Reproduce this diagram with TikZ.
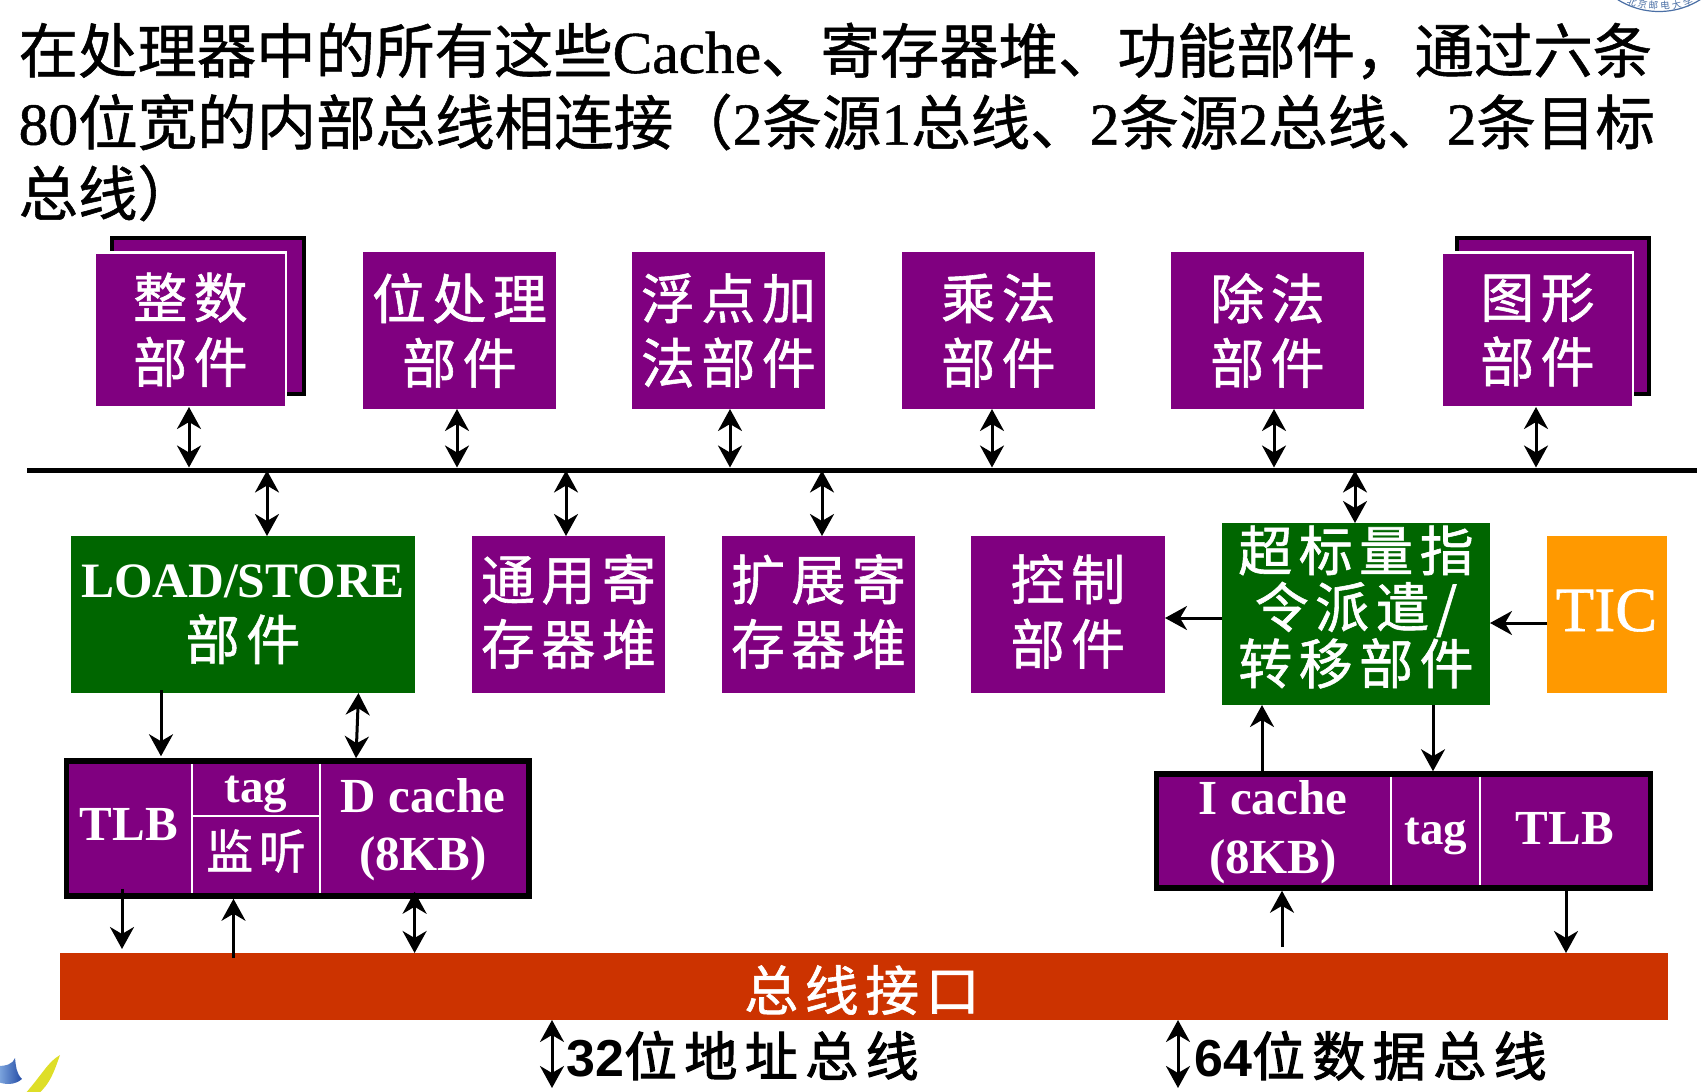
\documentclass[tikz,border=0pt]{standalone}
\usepackage{fontspec}
\usetikzlibrary{arrows.meta,calc}
\setmainfont{Liberation Serif}
\newfontfamily\cjk[FakeBold=0.9]{Noto Sans CJK SC}
\newfontfamily\cjkplain{Noto Sans CJK SC}
\newfontfamily\lab[LetterSpace=12,FakeBold=1.1]{Noto Sans CJK SC}
\newfontfamily\labb[LetterSpace=14,FakeBold=2]{Noto Sans CJK SC}
\newfontfamily\lats{Liberation Sans}
\newfontfamily\seri[FakeBold=0.9]{Liberation Serif}
\newcommand\lat[1]{{\seri #1}}
\newcommand\fsz[2]{\fontsize{#1}{#2}\selectfont}
\definecolor{pur}{HTML}{800080}
\definecolor{grn}{HTML}{006600}
\definecolor{org}{HTML}{FF9900}
\definecolor{rdd}{HTML}{CC3300}
\definecolor{sealb}{HTML}{4A6FA5}
\tikzset{
  x=1pt,y=-1pt,
  tipA/.tip={Stealth[length=22pt,width=24pt,inset=7pt]},
  one/.style={line width=3pt,-tipA},
  dbl/.style={line width=3pt,tipA-tipA},
  base/.style={rectangle,inner sep=0pt,outer sep=0pt,text=white,align=center,font=\lab\fsz{54}{64.5}},
  pbox/.style={base,fill=pur},
  gbox/.style={base,fill=grn},
  front/.style={pbox,draw=white,line width=2.5pt},
  backb/.style={pbox,draw=black,line width=4pt},
  frame/.style={pbox,draw=black,line width=5.5pt,outer sep=2.75pt},
  cell/.style={inner sep=0pt,text=white,font=\bfseries\fsz{49}{49},anchor=base},
  cellc/.style={inner sep=0pt,text=white,font=\lab\fsz{47}{47}},
  div/.style={draw=white,line width=2pt},
  ttl/.style={inner sep=0pt,anchor=west,text=black,font=\cjk},
  bot/.style={inner sep=0pt,anchor=base west,text=black},
  sealc/.style={inner sep=0pt,text=sealb,font=\cjkplain\fsz{9.5}{9.5}}
}
\begin{document}
\begin{tikzpicture}
\useasboundingbox (0,0) rectangle (1706,1092);
% logo fragments
\begin{scope}
\clip (0,0) rectangle (1706,1092);
\draw[sealb,line width=1.2pt,fill=white] (1659,-66) circle[radius=77.5pt];
\node[sealc,rotate=-21] (s1) at (1632,2) {北};
\node[sealc,rotate=-14] (s2) at (1642.5,4) {京};
\node[sealc,rotate=-5] (s3) at (1653.5,5.5) {邮};
\node[sealc,rotate=5] (s4) at (1665,5.5) {电};
\node[sealc,rotate=14] (s5) at (1676.5,4.5) {大};
\node[sealc,rotate=23] (s6) at (1688,2) {学};
\shade[left color={rgb,255:red,130;green,170;blue,225},right color={rgb,255:red,35;green,75;blue,165}] (-2,1066) .. controls (6,1066) and (13,1064) .. (15,1058) .. controls (16,1066) and (16,1073) .. (22,1079) .. controls (15,1085) and (6,1085) .. (-2,1082) -- cycle;
\fill[color={rgb,255:red,222;green,222;blue,40}] (60,1055) .. controls (48,1062) and (44,1072) .. (25,1094) -- (38,1094) .. controls (50,1084) and (54,1072) .. (60,1055) -- cycle;
\end{scope}
% title
\node[ttl] (t1) at (18.5,51) {\fsz{59.4}{60}在处理器中的所有这些\lat{Cache}、寄存器堆、功能部件，通过六条};
\node[ttl] (t2) at (18.5,122) {\fsz{59.5}{60}\lat{80}位宽的内部总线相连接（\lat{2}条源\lat{1}总线、\lat{2}条源\lat{2}总线、\lat{2}条目标};
\node[ttl] (t3) at (18.5,193) {\fsz{59.4}{60}总线）};
% bus
\node[base,fill=black,minimum width=1670pt,minimum height=5pt] (bus) at (862,470) {};
% top row
\node[backb,minimum width=192pt,minimum height=156pt] (intb) at (207.5,315.5) {};
\node[front,minimum width=191pt,minimum height=154.5pt] (intu) at (190.5,329.75) {整数\\部件};
\node[pbox,minimum width=193pt,minimum height=157pt] (bit) at (459.5,330.5) {位处理\\部件};
\node[pbox,minimum width=193pt,minimum height=157pt] (fadd) at (728.5,330.5) {浮点加\\法部件};
\node[pbox,minimum width=193pt,minimum height=157pt] (mul) at (998.5,330.5) {乘法\\部件};
\node[pbox,minimum width=193pt,minimum height=157pt] (div) at (1267.5,330.5) {除法\\部件};
\node[backb,minimum width=192pt,minimum height=156pt] (grb) at (1552.5,315.5) {};
\node[front,minimum width=191pt,minimum height=154.5pt] (gr) at (1537.5,329.75) {图形\\部件};
% middle row
\node[gbox,minimum width=344pt,minimum height=157pt,font=\lab\fsz{54}{62}] (load) at (243,614.5) {{\rmfamily\bfseries\fsz{49.5}{62}LOAD/STORE}\\部件};
\node[pbox,minimum width=193pt,minimum height=157pt] (gpr) at (568.5,614.5) {};
\node[base] (gprt) at (568.5,611.5) {通用寄\\存器堆};
\node[pbox,minimum width=193pt,minimum height=157pt] (ext) at (818.5,614.5) {};
\node[base] (extt) at (818.5,611.5) {扩展寄\\存器堆};
\node[pbox,minimum width=194pt,minimum height=157pt] (ctl) at (1068,614.5) {};
\node[base] (ctlt) at (1068,611.5) {控制\\部件};
\node[gbox,minimum width=268pt,minimum height=182pt] (sup) at (1356,614) {};
\node[base,font=\lab\fsz{54}{56.5}] (supt) at (1356,607) {超标量指\\令派遣/\\转移部件};
\node[base,fill=org,minimum width=120pt,minimum height=157pt] (tic) at (1607,614.5) {};
\node[inner sep=0pt,anchor=base,text=white,font=\seri\fsz{63}{63}] (tict) at (1606.5,631) {TIC};
% caches
\node[frame,minimum width=462.5pt,minimum height=135pt] (dc) at (297.75,828.5) {};
\node[frame,minimum width=494pt,minimum height=114pt] (ic) at (1403.5,831) {};
\coordinate (dx1) at (192,0);
\coordinate (dx2) at (320,0);
\coordinate (dy) at (0,815.5);
\coordinate (ix1) at (1391,0);
\coordinate (ix2) at (1480,0);
\draw[div,shorten <=5.5pt,shorten >=5.5pt] (dx1 |- dc.north) -- (dx1 |- dc.south);
\draw[div,shorten <=5.5pt,shorten >=5.5pt] (dx2 |- dc.north) -- (dx2 |- dc.south);
\draw[div] (dx1 |- dy) -- (dx2 |- dy);
\draw[div,shorten <=5.5pt,shorten >=5.5pt] (ix1 |- ic.north) -- (ix1 |- ic.south);
\draw[div,shorten <=5.5pt,shorten >=5.5pt] (ix2 |- ic.north) -- (ix2 |- ic.south);
\node[cell] (d1) at (129,840) {TLB};
\node[cell,font=\bfseries\fsz{47}{47}] (d2) at (256,802) {tag};
\node[cellc] (d3) at (256,851) {监听};
\node[cell] (d4) at (423,812.5) {D cache};
\node[cell] (d5) at (423,870.5) {(8KB)};
\node[cell] (i1) at (1273,814) {I cache};
\node[cell] (i2) at (1273,873.5) {(8KB)};
\node[cell,font=\bfseries\fsz{47}{47}] (i3) at (1436,844) {tag};
\node[cell] (i4) at (1565,844) {TLB};
% bus interface
\node[base,fill=rdd,minimum width=1608pt,minimum height=67pt] (bif) at (864,986.5) {};
\node[base,font=\lab\fsz{54}{54}] (bift) at (862,990) {总线接口};
% bottom labels
\coordinate (e1) at (552,1088);
\coordinate (e2) at (1178,1088);
\node[bot] (addr) at (566,1076) {{\lats\bfseries\fsz{52}{52}32}{\labb\fsz{53}{53}位地址总线}};
\node[bot] (data) at (1194,1076) {{\lats\bfseries\fsz{52}{52}64}{\labb\fsz{53}{53}位数据总线}};
% connectors
\foreach \n/\x/\f in {a1/189/intu,a2/457/bit,a3/730/fadd,a4/992/mul,a5/1274/div,a6/1536/gr}{
  \coordinate (\n) at (\x,0);
  \draw[dbl] (\n |- \f.south) -- (\n |- bus.north);
}
\foreach \n/\x/\f in {b1/267/load,b2/566/gpr,b3/822/ext,b4/1355/sup}{
  \coordinate (\n) at (\x,0);
  \draw[dbl,shorten <=-2pt] (\n |- bus.south) -- (\n |- \f.north);
}
\coordinate (cy) at (0,618);
\coordinate (ty) at (0,623);
\draw[one] (sup.west |- cy) -- (ctl.east |- cy);
\draw[one] (tic.west |- ty) -- (sup.east |- ty);
\coordinate (lx1) at (161,0);
\coordinate (lx2a) at (358.5,0);
\coordinate (lx2b) at (356,0);
\draw[one,shorten <=-3pt,shorten >=2pt] (lx1 |- load.south) -- (lx1 |- dc.north);
\draw[dbl] (lx2a |- load.south) -- (lx2b |- dc.north);
\coordinate (sx1) at (1262,0);
\coordinate (sx2) at (1433,0);
\draw[one] (sx1 |- ic.north) -- (sx1 |- sup.south);
\draw[one] (sx2 |- sup.south) -- (sx2 |- ic.north);
\coordinate (ux1) at (122,0);
\coordinate (ux2) at (233.5,0);
\coordinate (ux3) at (414.6,0);
\coordinate (ux4) at (1282,0);
\coordinate (ux5) at (1566,0);
\draw[one,shorten <=-10pt,shorten >=4pt] (ux1 |- dc.south) -- (ux1 |- bif.north);
\draw[one,shorten <=-5pt] (ux2 |- bif.north) -- (ux2 |- dc.south);
\draw[dbl,shorten <=-7pt] (ux3 |- dc.south) -- (ux3 |- bif.north);
\draw[one,shorten <=6pt] (ux4 |- bif.north) -- (ux4 |- ic.south);
\draw[one] (ux5 |- ic.south) -- (ux5 |- bif.north);
\draw[dbl] (e1 |- bif.south) -- (e1);
\draw[dbl] (e2 |- bif.south) -- (e2);
\end{tikzpicture}
\end{document}
